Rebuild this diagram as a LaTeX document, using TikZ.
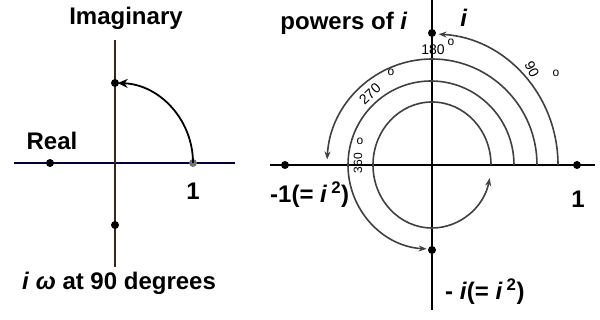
\documentclass[tikz,border=0pt]{standalone}
\usepackage{fontspec}
\setmainfont{Liberation Sans}
\usetikzlibrary{arrows.meta}
\begin{document}
\begin{tikzpicture}[x=1pt,y=1pt,
  big/.style={font=\fontsize{24}{24}\selectfont\bfseries, inner sep=0pt},
  small/.style={font=\fontsize{14}{14}\selectfont, inner sep=0pt},
  deg/.style={font=\fontsize{12}{12}\selectfont, inner sep=0pt},
  dot/.style={circle, fill=black, inner sep=0pt, minimum size=8pt},
  axisthick/.style={line width=2.4pt, black},
  arcline/.style={line width=1.6pt, black!75},
  tip/.style={-{Stealth[length=8pt,width=6pt]}}
]
\useasboundingbox (0,0) rectangle (600,320);
% ---------- left panel ----------
\coordinate (Lw) at (14,157);
\coordinate (Le) at (235,157);
\coordinate (Ln) at (115,280);
\coordinate (Ls) at (115,53);
\draw[line width=2pt, black!80!blue] (Lw) -- (Le);
\draw[line width=1.2pt, black!70!brown] (Ln) -- (Ls);
\node[dot] (lm1) at (50,157) {};
\node[dot, fill=black!55] (l1) at (193,157) {};
\node[dot] (lmi) at (115,95) {};
\node[dot] (li) at (115,237) {};
\draw[line width=1.8pt, -{Stealth[length=10pt,width=9pt]}] (l1.center) arc[start angle=0,end angle=88,x radius=78,y radius=80];
\node[big, anchor=base] (limag) at (126,295) {Imaginary};
\node[big, anchor=base] (lreal) at (52,170) {Real};
\node[big, anchor=base] (lone) at (193,120) {1};
\node[big, anchor=base] (lcap) at (119,30) {\textit{i} \textit{ω} at 90 degrees};
% ---------- right panel ----------
\coordinate (O) at (432,155);
\coordinate (Rw) at (270,155);
\coordinate (Re) at (595,155);
\coordinate (Rn) at (432,320);
\coordinate (Rs) at (432,10);
\draw[axisthick] (Rw) -- (Re);
\draw[axisthick] (Rn) -- (Rs);
\node[dot] (rm1) at (285,155) {};
\node[dot] (r1) at (577,155) {};
\node[dot] (ri) at (432,287) {};
\node[dot] (rmi) at (432,70) {};
% arcs
\coordinate (a1) at (558,155);
\coordinate (a2) at (537,155);
\coordinate (a3) at (514,155);
\coordinate (a4) at (491,155);
\draw[arcline, tip] (a1) arc[start angle=0,end angle=87,x radius=126,y radius=131];
\draw[arcline, tip] (a2) arc[start angle=0,end angle=177,x radius=105,y radius=106];
\draw[arcline, tip] (a3) arc[start angle=0,end angle=267,x radius=83,y radius=84];
\draw[arcline, tip] (a4) arc[start angle=0,end angle=348,x radius=59,y radius=63];
% labels
\node[big, anchor=base] (lpow) at (344,290) {powers of \textit{i}};
\node[big, anchor=base] (li2) at (464,293) {\textit{i}};
\node[small, anchor=base] (l180) at (433,265) {180};
\node[deg] (l180o) at (451,278) {o};
\node[small, rotate=-63] (l90) at (532,251) {90};
\node[deg] (l90o) at (556,247) {o};
\node[small, rotate=43] (l270) at (370,226) {270};
\node[deg] (l270o) at (391,248) {o};
\node[rotate=90, font=\fontsize{12}{12}\selectfont, inner sep=0pt] (l360) at (358,157) {360};
\node[deg] (l360o) at (360,179) {o};
\node[big, anchor=base west] (lm1t) at (270,117) {-1(= \textit{i}\,\textsuperscript{2})};
\node[big, anchor=base] (lr1) at (578,112) {1};
\node[big, anchor=base west] (lmi2) at (445,20) {- \textit{i}(= \textit{i}\,\textsuperscript{2})};
\end{tikzpicture}
\end{document}
